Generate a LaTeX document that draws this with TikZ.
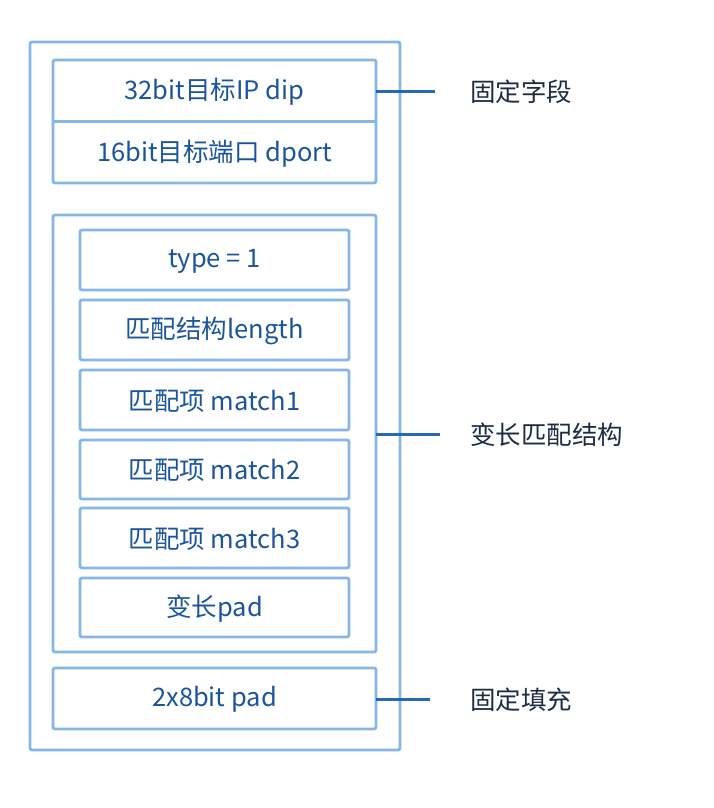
\documentclass[tikz,border=0pt]{standalone}
\usepackage{fontspec}
\setmainfont{Noto Sans CJK SC}
\definecolor{boxc}{HTML}{84B6EA}
\definecolor{txtc}{HTML}{1B549E}
\definecolor{linec}{HTML}{2468BC}
\definecolor{labc}{HTML}{1E2B44}
\begin{document}
\begin{tikzpicture}[x=1pt,y=-1pt,
  frame/.style={draw=boxc,line width=2.8pt,rounded corners=2pt},
  field/.style={text=txtc,font=\fontsize{25.5}{30}\selectfont,anchor=center,inner sep=0pt},
  lab/.style={text=labc,font=\fontsize{25.5}{30}\selectfont,anchor=west,inner sep=0pt},
  conn/.style={draw=linec,line width=3pt}]
\useasboundingbox (0,0) rectangle (714,808);
% outer
\draw[frame] (30,42) rectangle (400,750);
% fixed fields
\draw[frame] (53,60) rectangle (376,183);
\draw[draw=boxc,line width=2.8pt] (53,121.5) -- (376,121.5);
\node[field] (dip) at (214.5,92) {32bit目标IP dip};
\node[field] (dport) at (214.5,154) {16bit目标端口 dport};
% variable structure
\draw[frame] (53,215) rectangle (376,652);
\draw[frame] (80,230) rectangle (349,290);
\node[field] (type) at (214.5,261) {type = 1};
\draw[frame] (80,300) rectangle (349,360);
\node[field] (len) at (214.5,331) {匹配结构length};
\draw[frame] (80,370) rectangle (349,430);
\node[field] (m1) at (214.5,401) {匹配项 match1};
\draw[frame] (80,440) rectangle (349,499);
\node[field] (m2) at (214.5,470.5) {匹配项 match2};
\draw[frame] (80,508) rectangle (349,568);
\node[field] (m3) at (214.5,539) {匹配项 match3};
\draw[frame] (80,578) rectangle (349,637);
\node[field] (vpad) at (214.5,608.5) {变长pad};
% pad
\draw[frame] (53,668) rectangle (376,729);
\node[field] (pad) at (214.5,699.5) {2x8bit pad};
% connectors and labels
\coordinate (c1) at (376,91);
\coordinate (c2) at (376,434);
\coordinate (c3) at (376,699);
\node[lab] (l1) at (470,92) {固定字段};
\node[lab] (l2) at (470,435) {变长匹配结构};
\node[lab] (l3) at (470,700) {固定填充};
\draw[conn] (c1) -- ++(59,0);
\draw[conn] (c2) -- ++(64,0);
\draw[conn] (c3) -- ++(54,0);
\end{tikzpicture}
\end{document}
